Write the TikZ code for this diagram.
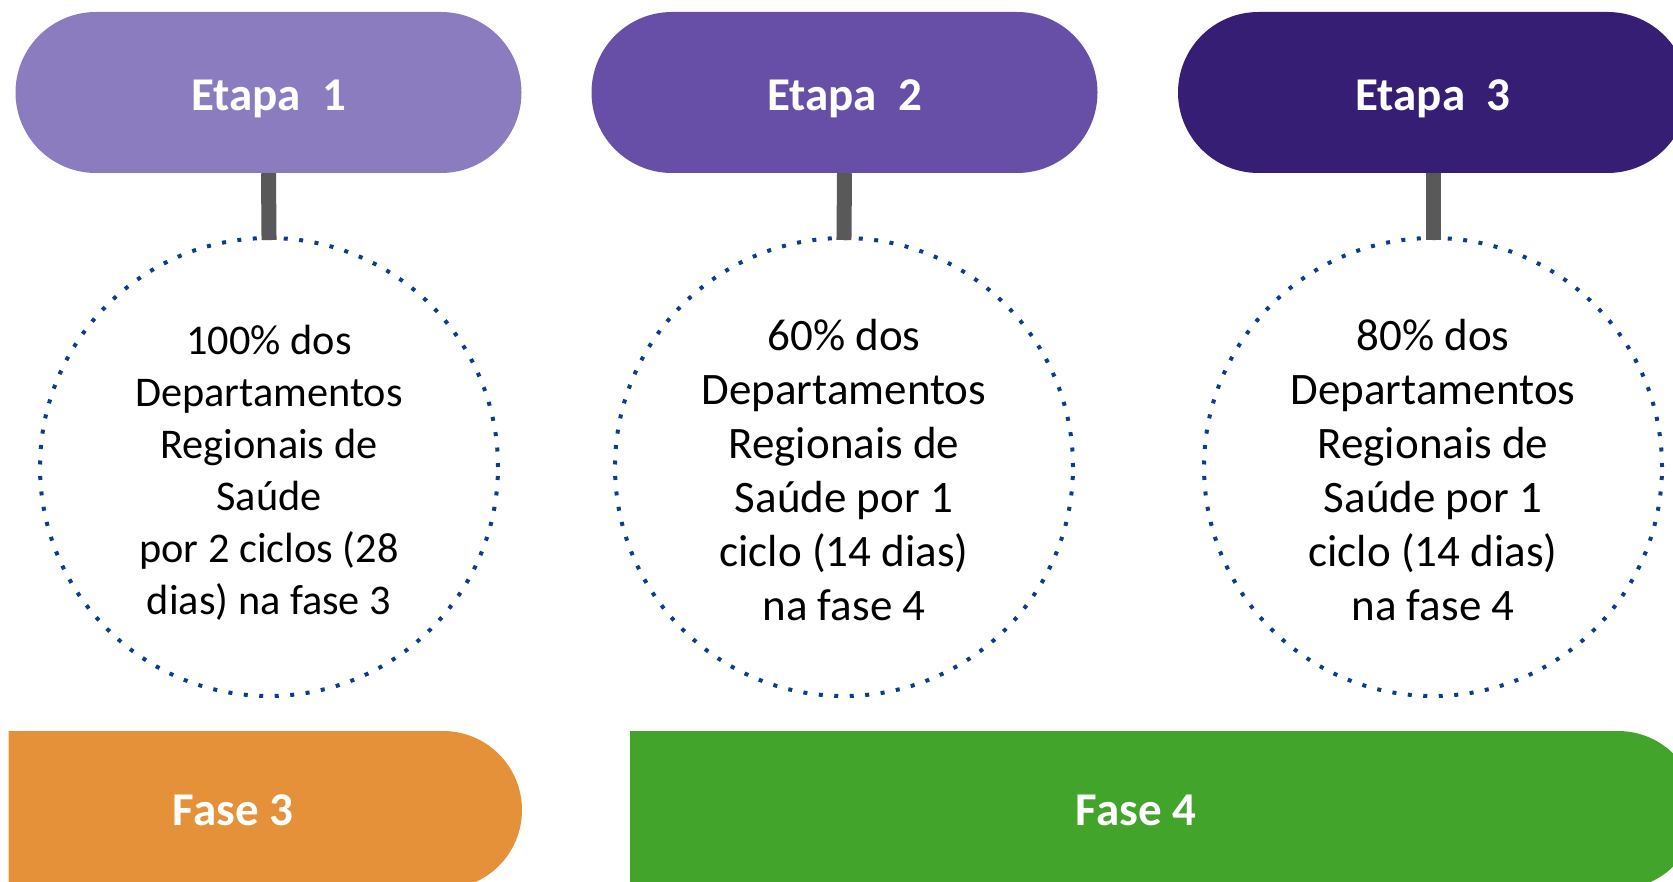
\documentclass[tikz,border=0pt]{standalone}
\usepackage{fontspec}
\setmainfont{Carlito}
\usetikzlibrary{shapes.misc}
\definecolor{etA}{HTML}{8B7CC0}
\definecolor{etB}{HTML}{674FA7}
\definecolor{etC}{HTML}{351E73}
\definecolor{faseA}{HTML}{E59139}
\definecolor{faseB}{HTML}{43A42C}
\definecolor{dotblue}{HTML}{0D3B8E}
\definecolor{conngray}{HTML}{595959}
\begin{document}
\begin{tikzpicture}[x=1pt,y=-1pt,
  etapa/.style={rounded rectangle, minimum width=506pt, minimum height=161pt, inner sep=0pt,
    text=white, font=\fontsize{47}{56}\selectfont\bfseries, text height=36.5pt, text depth=0pt},
  fase/.style={rounded rectangle, rounded rectangle west arc=none, minimum height=158pt, inner sep=0pt},
  faselbl/.style={text=white, font=\fontsize{47}{56}\selectfont\bfseries, text height=30pt, text depth=0pt, inner sep=0pt},
  ring/.style={circle, minimum size=458pt, inner sep=0pt, draw=dotblue, line width=4pt, dash pattern=on 4pt off 11.5pt},
  body/.style={align=center, font=\fontsize{42.3}{52}\selectfont, inner sep=0pt},
  bodybig/.style={align=center, font=\fontsize{45}{54}\selectfont, inner sep=0pt},
  conn/.style={draw=conngray, line width=15pt, shorten >=-4pt}]
\clip (0,0) rectangle (1673,882);
% Etapa pills
\node[etapa, fill=etA] (e1) at (268.5,92.5) {Etapa\ \ 1};
\node[etapa, fill=etB] (e2) at (844.5,92.5) {Etapa\ \ 2};
\node[etapa, fill=etC, minimum width=510pt] (e3) at (1433,92.5) {Etapa\ \ 3};
% dotted circles
\node[ring] (c1) at (269,467) {};
\node[ring] (c2) at (844,467) {};
\node[ring] (c3) at (1433,467) {};
% circle texts
\node[body] (t1) at (269,473) {100\% dos\\Departamentos\\Regionais de\\Saúde\\por 2 ciclos (28\\dias) na fase 3};
\node[bodybig] (t2) at (844,470) {60\% dos\\Departamentos\\Regionais de\\Saúde por 1\\ciclo (14 dias)\\na fase 4};
\node[bodybig] (t3) at (1433,470) {80\% dos\\Departamentos\\Regionais de\\Saúde por 1\\ciclo (14 dias)\\na fase 4};
% connectors
\draw[conn] (e1.south) -- (c1.north);
\draw[conn] (e2.south) -- (c2.north);
\draw[conn] (e3.south) -- (c3.north);
% Fase bars
\node[fase, fill=faseA, minimum width=513.4pt] (f3) at (265.3,810) {};
\node[fase, fill=faseB, minimum width=1067pt] (f4) at (1163.5,810) {};
\node[faselbl] (f3t) at (233,810) {Fase 3};
\node[faselbl] (f4t) at (1136,810) {Fase 4};
\end{tikzpicture}
\end{document}
